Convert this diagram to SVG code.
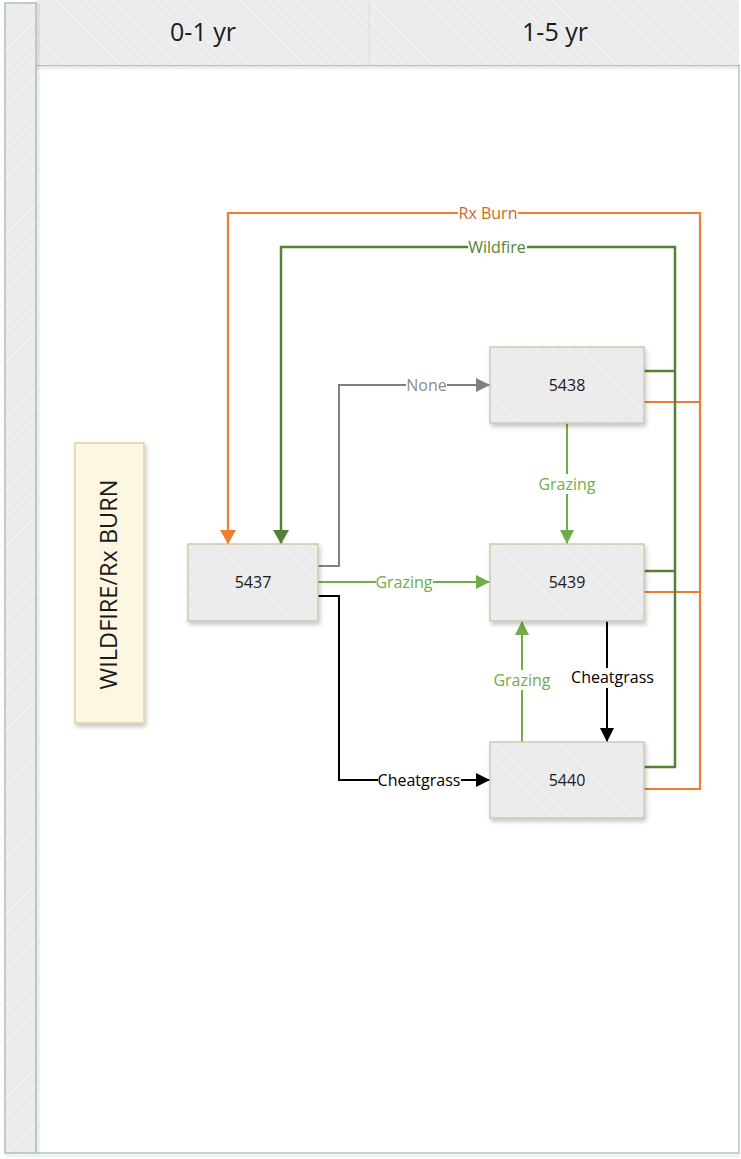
<svg xmlns="http://www.w3.org/2000/svg" width="741" height="1159" viewBox="0 0 741 1159">
  <style>
    .lbl { font-family: "Open Sans", "Noto Sans", sans-serif; font-size: 16px; text-anchor: middle; }
    .node rect.box { fill: #EBEBEB; stroke: #CFC9AF; stroke-width: 1.5; }
    .node rect.pat { fill: url(#stripeNode); stroke: none; }
    .node text { font-family: "Open Sans", "Noto Sans", sans-serif; font-size: 16px; fill: #1a1a1a; text-anchor: middle; }
    .hdr { font-family: "Open Sans", "Noto Sans", sans-serif; font-size: 25px; fill: #1a1a1a; text-anchor: middle; }
    .bg { fill: #FFFFFF; }
    .conn { fill: none; }
  </style>
  <defs>
    <pattern id="stripeHdr" patternUnits="userSpaceOnUse" width="13" height="13" patternTransform="rotate(-45)">
      <line x1="0" y1="0" x2="0" y2="13" stroke="#FFFFFF" stroke-width="1.5" stroke-opacity="0.7"/>
    </pattern>
    <pattern id="stripeBar" patternUnits="userSpaceOnUse" width="13" height="13" patternTransform="rotate(45)">
      <line x1="0" y1="0" x2="0" y2="13" stroke="#FFFFFF" stroke-width="1.5" stroke-opacity="0.7"/>
    </pattern>
    <pattern id="stripeNode" patternUnits="userSpaceOnUse" width="11" height="11" patternTransform="rotate(-45)">
      <line x1="0" y1="0" x2="0" y2="11" stroke="#FFFFFF" stroke-width="1.2" stroke-opacity="0.6"/>
    </pattern>
    <pattern id="dots" patternUnits="userSpaceOnUse" width="4" height="4">
      <circle cx="2" cy="2" r="0.8" fill="#FFFFFF" fill-opacity="0.8"/>
    </pattern>
    <linearGradient id="hdrShadow" x1="0" y1="0" x2="0" y2="1">
      <stop offset="0" stop-color="#000000" stop-opacity="0.12"/>
      <stop offset="1" stop-color="#000000" stop-opacity="0"/>
    </linearGradient>
    <filter id="shadow" x="-10%" y="-10%" width="125%" height="130%">
      <feDropShadow dx="1.5" dy="3" stdDeviation="2" flood-color="#000000" flood-opacity="0.22"/>
    </filter>
    <marker id="arrOrange" markerUnits="userSpaceOnUse" markerWidth="16" markerHeight="17" refX="14" refY="8" orient="auto">
      <path d="M0,0 L14,8 L0,16 z" fill="#ED7D31"/>
    </marker>
    <marker id="arrDkGreen" markerUnits="userSpaceOnUse" markerWidth="16" markerHeight="17" refX="14" refY="8" orient="auto">
      <path d="M0,0 L14,8 L0,16 z" fill="#548235"/>
    </marker>
    <marker id="arrGreen" markerUnits="userSpaceOnUse" markerWidth="16" markerHeight="16" refX="14" refY="7" orient="auto">
      <path d="M0,0 L14,7 L0,14 z" fill="#70AD47"/>
    </marker>
    <marker id="arrGray" markerUnits="userSpaceOnUse" markerWidth="16" markerHeight="16" refX="14" refY="7" orient="auto">
      <path d="M0,0 L14,7 L0,14 z" fill="#808080"/>
    </marker>
    <marker id="arrBlack" markerUnits="userSpaceOnUse" markerWidth="16" markerHeight="16" refX="14" refY="7" orient="auto">
      <path d="M0,0 L14,7 L0,14 z" fill="#000000"/>
    </marker>
  </defs>

  <rect x="0" y="0" width="741" height="1159" fill="#FFFFFF"/>

  <g id="pool">
    <rect x="6" y="1153" width="733" height="4" fill="#000000" fill-opacity="0.05"/>
    <rect x="36" y="65" width="703" height="1088" fill="#FFFFFF" stroke="#B5CBC3" stroke-width="1.5"/>
    <g id="header">
      <rect x="36" y="0" width="703" height="65" fill="#EBEBEB"/>
      <rect x="36" y="0" width="703" height="65" fill="url(#stripeHdr)"/>
      <rect x="36" y="65" width="703" height="6" fill="url(#hdrShadow)"/>
      <line x1="369" y1="0" x2="369" y2="65" stroke="#DCDCDC" stroke-width="1"/>
      <text class="hdr" x="203" y="41">0-1 yr</text>
      <text class="hdr" x="555" y="41">1-5 yr</text>
    </g>
    <g id="lane-bar">
      <rect x="36" y="3" width="4" height="1150" fill="#000000" fill-opacity="0.06"/>
      <rect x="5" y="3" width="31" height="1150" fill="#EBEBEB" stroke="#A9C3BB" stroke-width="1.5"/>
      <rect x="5.75" y="3.75" width="29.5" height="1148.5" fill="url(#stripeBar)"/>
    </g>
  </g>

  <g id="side-label">
    <rect x="75" y="443" width="69" height="280" fill="#FCF6DF" stroke="#DCD3A8" stroke-width="1.5" filter="url(#shadow)"/>
    <rect x="76" y="444" width="67" height="278" fill="url(#dots)"/>
    <text x="0" y="0" transform="translate(117,584.5) rotate(-90)" font-family="'Open Sans', 'Noto Sans', sans-serif" font-size="23.5" fill="#1a1a1a" text-anchor="middle">WILDFIRE/Rx BURN</text>
  </g>

  <g id="connectors">
    <g stroke="#ED7D31" stroke-width="2.2" class="conn">
      <path class="conn" d="M644,789 H700 V213 H228 V544" marker-end="url(#arrOrange)"/>
      <path class="conn" d="M644,402 H700"/>
      <path class="conn" d="M644,592 H700"/>
    </g>
    <g stroke="#548235" class="conn">
      <path class="conn" d="M644,767 H675 V247 H281 V544" stroke-width="2.5" marker-end="url(#arrDkGreen)"/>
      <path class="conn" d="M644,371 H675" stroke-width="2.5"/>
      <path class="conn" d="M644,571 H675" stroke-width="2.5"/>
    </g>
    <path class="conn" d="M318,566 H339 V385 H490" stroke="#808080" stroke-width="2" marker-end="url(#arrGray)"/>
    <path class="conn" d="M318,582 H490" stroke="#70AD47" stroke-width="2" marker-end="url(#arrGreen)"/>
    <path class="conn" d="M567,423 V544" stroke="#70AD47" stroke-width="2" marker-end="url(#arrGreen)"/>
    <path class="conn" d="M522,742 V621" stroke="#70AD47" stroke-width="2" marker-end="url(#arrGreen)"/>
    <path class="conn" d="M318,596 H339 V780 H490" stroke="#000000" stroke-width="2" marker-end="url(#arrBlack)"/>
    <path class="conn" d="M607,621 V742" stroke="#000000" stroke-width="2" marker-end="url(#arrBlack)"/>

    <rect class="bg" x="458" y="204" width="60" height="18"/>
    <text class="lbl" x="488" y="218.5" fill="#D0651F">Rx Burn</text>
    <rect class="bg" x="468" y="238" width="59" height="18"/>
    <text class="lbl" x="497" y="252.5" fill="#548235">Wildfire</text>
    <rect class="bg" x="406" y="376" width="41" height="18"/>
    <text class="lbl" x="426.5" y="390.5" fill="#8C8C8C">None</text>
    <rect class="bg" x="376" y="573" width="57" height="18"/>
    <text class="lbl" x="404" y="587.5" fill="#70AD47">Grazing</text>
    <rect class="bg" x="538" y="474" width="58" height="20"/>
    <text class="lbl" x="567" y="489.5" fill="#70AD47">Grazing</text>
    <rect class="bg" x="493" y="670" width="58" height="20"/>
    <text class="lbl" x="522" y="686" fill="#70AD47">Grazing</text>
    <rect class="bg" x="378" y="771" width="83" height="18"/>
    <text class="lbl" x="419" y="785.5" fill="#000000">Cheatgrass</text>
    <rect class="bg" x="570" y="668" width="85" height="20"/>
    <text class="lbl" x="612.5" y="683" fill="#000000">Cheatgrass</text>
  </g>

  <g id="node-5437" class="node">
    <rect class="box" x="188" y="544" width="130" height="77" filter="url(#shadow)"/>
    <rect class="pat" x="189" y="545" width="128" height="75"/>
    <text x="253" y="588">5437</text>
  </g>
  <g id="node-5438" class="node">
    <rect class="box" x="490" y="347" width="154" height="76" filter="url(#shadow)"/>
    <rect class="pat" x="491" y="348" width="152" height="74"/>
    <text x="567" y="390.5">5438</text>
  </g>
  <g id="node-5439" class="node">
    <rect class="box" x="490" y="544" width="154" height="77" filter="url(#shadow)"/>
    <rect class="pat" x="491" y="545" width="152" height="75"/>
    <text x="567" y="588">5439</text>
  </g>
  <g id="node-5440" class="node">
    <rect class="box" x="490" y="742" width="154" height="76" filter="url(#shadow)"/>
    <rect class="pat" x="491" y="743" width="152" height="74"/>
    <text x="567" y="785.5">5440</text>
  </g>
</svg>
